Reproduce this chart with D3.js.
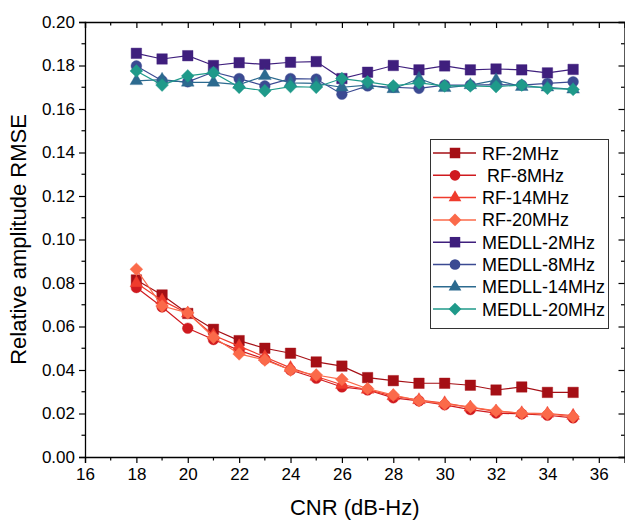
<!DOCTYPE html>
<html>
<head>
<meta charset="utf-8">
<script src="https://cdn.jsdelivr.net/npm/d3@7"></script>
<style>
  html, body { margin: 0; padding: 0; background: #fff; }
  svg { display: block; font-family: "Liberation Sans", Arial, sans-serif; }
</style>
</head>
<body>
<svg width="625" height="522"></svg>
<script>
const width = 625, height = 522;
const svg = d3.select("svg");

// CNR values (dB-Hz)
const cnr = [18, 19, 20, 21, 22, 23, 24, 25, 26, 27, 28, 29, 30, 31, 32, 33, 34, 35];

// RMSE values
const rf2 = [0.0814, 0.0745, 0.0660, 0.0587, 0.0535, 0.0500, 0.0477, 0.0437, 0.0418, 0.0365, 0.0351, 0.0339, 0.0339, 0.0330, 0.0308, 0.0322, 0.0297, 0.0297];
const rf8 = [0.0779, 0.0690, 0.0592, 0.0540, 0.0490, 0.0450, 0.0400, 0.0362, 0.0322, 0.0308, 0.0272, 0.0258, 0.0240, 0.0218, 0.0202, 0.0198, 0.0192, 0.0180];
const rf14 = [0.0800, 0.0720, 0.0660, 0.0560, 0.0510, 0.0460, 0.0410, 0.0370, 0.0332, 0.0310, 0.0280, 0.0262, 0.0248, 0.0228, 0.0210, 0.0202, 0.0200, 0.0190];
const rf20 = [0.0863, 0.0694, 0.0663, 0.0550, 0.0474, 0.0446, 0.0400, 0.0377, 0.0357, 0.0314, 0.0285, 0.0259, 0.0244, 0.0229, 0.0212, 0.0201, 0.0198, 0.0185];
const medll2 = [0.1856, 0.1830, 0.1845, 0.1800, 0.1813, 0.1805, 0.1815, 0.1818, 0.1740, 0.1769, 0.1800, 0.1780, 0.1798, 0.1780, 0.1784, 0.1780, 0.1766, 0.1782];
const medll8 = [0.1798, 0.1730, 0.1725, 0.1770, 0.1740, 0.1706, 0.1740, 0.1738, 0.1668, 0.1706, 0.1700, 0.1695, 0.1710, 0.1710, 0.1712, 0.1710, 0.1718, 0.1725];
const medll14 = [0.1729, 0.1735, 0.1722, 0.1722, 0.1712, 0.1752, 0.1720, 0.1718, 0.1700, 0.1710, 0.1692, 0.1740, 0.1697, 0.1710, 0.1733, 0.1702, 0.1700, 0.1690];
const medll20 = [0.1775, 0.1710, 0.1752, 0.1767, 0.1700, 0.1684, 0.1703, 0.1700, 0.1740, 0.1725, 0.1706, 0.1720, 0.1706, 0.1706, 0.1703, 0.1710, 0.1695, 0.1690];

const seriesNames = ["RF-2MHz", " RF-8MHz", "RF-14MHz", "RF-20MHz", "MEDLL-2MHz", "MEDLL-8MHz", "MEDLL-14MHz", "MEDLL-20MHz"];
const seriesValues = [rf2, rf8, rf14, rf20, medll2, medll8, medll14, medll20];
const seriesColors = ["#a50f15", "#cf1a1f", "#ef3b2c", "#fb6a4a", "#3f1f7d", "#3b4a92", "#2c6a8f", "#1f9a8a"];
const seriesShapes = ["square", "circle", "triangle", "diamond", "square", "circle", "triangle", "diamond"];

const xTicks = [16, 18, 20, 22, 24, 26, 28, 30, 32, 34, 36];
const yTicks = [0, 0.02, 0.04, 0.06, 0.08, 0.10, 0.12, 0.14, 0.16, 0.18, 0.20];

const margin = { left: 85, right: 0.5, top: 22, bottom: 65 };
const x = d3.scaleLinear().domain([16, 37]).range([margin.left, width - margin.right]);
const y = d3.scaleLinear().domain([0, 0.20]).range([height - margin.bottom, margin.top]);

// marker generators
function markerPath(shape) {
  if (shape === "square") return d3.symbol(d3.symbolSquare, 110)();
  if (shape === "circle") return d3.symbol(d3.symbolCircle, 90)();
  if (shape === "triangle") return d3.symbol(d3.symbolTriangle, 70)();
  return d3.symbol(d3.symbolSquare, 82)();
}
function markerRotate(shape) { return shape === "diamond" ? " rotate(45)" : ""; }

// axes
const minorX = d3.range(17, 37, 2);
const minorY = d3.range(0.01, 0.2, 0.02);

function drawAxis(g, axis) {
  g.call(axis);
  g.select(".domain").attr("stroke", "#000").attr("stroke-width", 1.3);
  g.selectAll(".tick line").attr("stroke", "#000").attr("stroke-width", 1.2);
  g.selectAll(".tick text").attr("font-size", 17).attr("fill", "#000")
    .attr("font-family", "'Liberation Sans', Arial, sans-serif");
}

// bottom
const gB = svg.append("g").attr("transform", `translate(0,${y(0)})`);
drawAxis(gB, d3.axisBottom(x).tickValues(xTicks).tickFormat(d3.format("d")).tickSize(6).tickPadding(5));
gB.selectAll(".minor").data(minorX).join("line").attr("class", "minor")
  .attr("x1", d => x(d)).attr("x2", d => x(d)).attr("y1", 0).attr("y2", 3.5)
  .attr("stroke", "#000").attr("stroke-width", 1.2);

// top (inward)
const gT = svg.append("g").attr("transform", `translate(0,${y(0.2)})`);
drawAxis(gT, d3.axisBottom(x).tickValues(xTicks).tickFormat("").tickSize(6));
gT.selectAll(".minor").data(minorX).join("line").attr("class", "minor")
  .attr("x1", d => x(d)).attr("x2", d => x(d)).attr("y1", 0).attr("y2", 3.5)
  .attr("stroke", "#000").attr("stroke-width", 1.2);

// left
const gL = svg.append("g").attr("transform", `translate(${x(16)},0)`);
drawAxis(gL, d3.axisLeft(y).tickValues(yTicks).tickFormat(d3.format(".2f")).tickSize(6).tickPadding(4));
gL.selectAll(".minor").data(minorY).join("line").attr("class", "minor")
  .attr("y1", d => y(d)).attr("y2", d => y(d)).attr("x1", 0).attr("x2", -3.5)
  .attr("stroke", "#000").attr("stroke-width", 1.2);

// right (inward)
const gR = svg.append("g").attr("transform", `translate(${x(37)},0)`);
drawAxis(gR, d3.axisLeft(y).tickValues(yTicks).tickFormat("").tickSize(6));
gR.selectAll(".minor").data(minorY).join("line").attr("class", "minor")
  .attr("y1", d => y(d)).attr("y2", d => y(d)).attr("x1", 0).attr("x2", -3.5)
  .attr("stroke", "#000").attr("stroke-width", 1.2);

// axis titles
svg.append("text")
  .attr("x", (x(16) + x(37)) / 2).attr("y", 515)
  .attr("text-anchor", "middle").attr("font-size", 22)
  .text("CNR (dB-Hz)");

svg.append("text")
  .attr("transform", `translate(26,${(y(0) + y(0.2)) / 2}) rotate(-90)`)
  .attr("text-anchor", "middle").attr("font-size", 22)
  .text("Relative amplitude RMSE");

// series
const line = d3.line().x((d, i) => x(cnr[i])).y(d => y(d));

seriesValues.forEach((vals, k) => {
  const g = svg.append("g");
  g.append("path")
    .attr("d", line(vals))
    .attr("fill", "none")
    .attr("stroke", seriesColors[k])
    .attr("stroke-width", 1.2);
  g.selectAll("path.m").data(vals).join("path").attr("class", "m")
    .attr("d", markerPath(seriesShapes[k]))
    .attr("transform", (d, i) => `translate(${x(cnr[i])},${y(d)})${markerRotate(seriesShapes[k])}`)
    .attr("fill", seriesColors[k])
    .attr("stroke", seriesColors[k])
    .attr("stroke-opacity", 0.5)
    .attr("stroke-width", 0.8);
});

// legend
const lg = svg.append("g");
lg.append("rect")
  .attr("x", 430.5).attr("y", 139.5).attr("width", 178).attr("height", 189)
  .attr("fill", "#fff").attr("stroke", "#333").attr("stroke-width", 1);

seriesNames.forEach((name, k) => {
  const cy = 153 + k * 22.3;
  lg.append("line")
    .attr("x1", 433).attr("x2", 476).attr("y1", cy).attr("y2", cy)
    .attr("stroke", seriesColors[k]).attr("stroke-width", 1.5);
  lg.append("path")
    .attr("d", markerPath(seriesShapes[k]))
    .attr("transform", `translate(455,${cy})${markerRotate(seriesShapes[k])}`)
    .attr("fill", seriesColors[k]);
  lg.append("text")
    .attr("x", 482).attr("y", cy + 6.5)
    .attr("font-size", 18).attr("xml:space", "preserve")
    .style("white-space", "pre")
    .text(name);
});
</script>
</body>
</html>
